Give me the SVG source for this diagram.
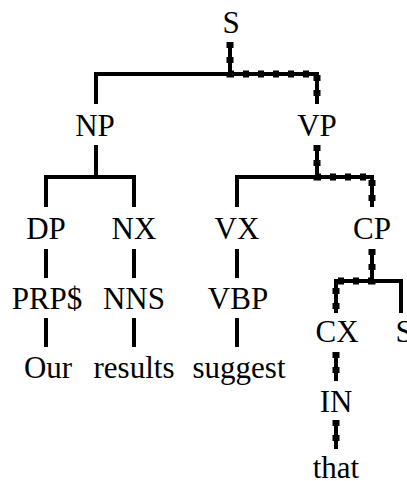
<svg xmlns="http://www.w3.org/2000/svg" width="407" height="481" viewBox="0 0 407 481">
<style>
text{font-family:"Liberation Serif","Tinos","Times New Roman","DejaVu Serif",serif;font-size:31px;fill:#000;text-anchor:middle}
.e{fill:none;stroke:#000;stroke-width:4;stroke-linejoin:miter;stroke-linecap:butt}
.d{fill:none;stroke:#000;stroke-width:7;stroke-dasharray:6 9;stroke-linecap:butt;stroke-linejoin:miter}
</style>
<rect width="407" height="481" fill="#fff"/>
<g id="connectors">
<path class="e" d="M230,74 H96 V104"/>
<path class="e" d="M96,145 V177"/>
<path class="e" d="M46,207 V177 H134 V207"/>
<path class="e" d="M317,177 H237 V207"/>
<path class="e" d="M46,249 V278 M46,318 V347"/>
<path class="e" d="M134,249 V278 M134,318 V347"/>
<path class="e" d="M237,249 V278 M237,318 V347"/>
<path class="e" d="M372,281 H401 V313"/>
<g id="path-highlight">
<path class="e" d="M230,42 V74 H317 V104"/>
<path class="d" d="M230,42 V74 H317 V104"/>
<path class="e" d="M317,145 V177 H372 V207"/>
<path class="d" d="M317,145 V177 H372 V207"/>
<path class="e" d="M372,249 V281 H336 V313"/>
<path class="d" d="M372,249 V281 H336 V313"/>
<path class="e" d="M336,352 V381"/>
<path class="d" d="M336,352 V381"/>
<path class="e" d="M336,420 V449"/>
<path class="d" d="M336,420 V449"/>
</g>
</g>
<g id="n-S"><text x="231" y="33">S</text></g>
<g id="n-NP"><text x="95" y="136">NP</text></g>
<g id="n-VP"><text x="317" y="136">VP</text></g>
<g id="n-DP"><text x="46" y="239">DP</text></g>
<g id="n-NX"><text x="134" y="239">NX</text></g>
<g id="n-VX"><text x="237" y="239">VX</text></g>
<g id="n-CP"><text x="372" y="239">CP</text></g>
<g id="n-PRP"><text x="47" y="309">PRP$</text></g>
<g id="n-NNS"><text x="134" y="309">NNS</text></g>
<g id="n-VBP"><text x="238" y="309">VBP</text></g>
<g id="n-Our"><text x="48" y="378">Our</text></g>
<g id="n-results"><text x="134" y="378">results</text></g>
<g id="n-suggest"><text x="239" y="378">suggest</text></g>
<g id="n-CX"><text x="337" y="342">CX</text></g>
<g id="n-S2"><text x="404" y="342">S</text></g>
<g id="n-IN"><text x="336" y="412">IN</text></g>
<g id="n-that"><text x="336" y="478">that</text></g>
</svg>
